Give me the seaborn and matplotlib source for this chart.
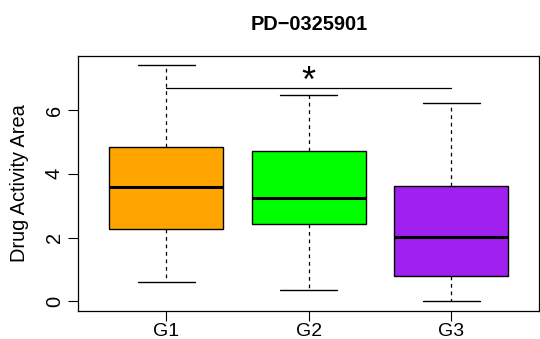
import matplotlib
matplotlib.use("Agg")
import matplotlib.pyplot as plt
import numpy as np
import pandas as pd
import seaborn as sns

# five-number summaries (min, q1, median, q3, max)
groups = ["G1", "G2", "G3"]
g1 = [0.62, 2.26, 3.58, 4.85, 7.41]
g2 = [0.36, 2.42, 3.24, 4.72, 6.47]
g3 = [0.00, 0.80, 2.01, 3.62, 6.23]
colors = ["#FFA500", "#00FF00", "#A020F0"]
sig_y = 6.68
title = "PD\u22120325901"

df = pd.DataFrame({
    "group": np.repeat(groups, 5),
    "value": g1 + g2 + g3,
})

sns.set_theme(style="ticks")
plt.rcParams["font.family"] = ["Liberation Sans", "DejaVu Sans"]
plt.rcParams["text.color"] = "black"
plt.rcParams["axes.labelcolor"] = "black"
plt.rcParams["xtick.color"] = "black"
plt.rcParams["ytick.color"] = "black"

FS = 14.4
fig = plt.figure(figsize=(5.4, 3.39), dpi=100)
ax = fig.add_axes([0.1444, 0.0835, 0.8546, 0.7513])

sns.boxplot(
    data=df, x="group", y="value", hue="group", palette=colors, legend=False,
    whis=(0, 100), width=0.8, linewidth=1, linecolor="black", saturation=1,
    ax=ax,
    whiskerprops=dict(linestyle=(0, (3, 3)), color="black", linewidth=0.9),
    capprops=dict(color="black", linewidth=1),
    medianprops=dict(color="black", linewidth=2.2),
    boxprops=dict(edgecolor="black"),
)

ax.set_xlim(-0.62, 2.62)
ax.set_ylim(-0.296, 7.696)
ax.set_yticks([0, 2, 4, 6])
ax.tick_params(axis="y", labelrotation=90, labelsize=FS, length=7.2, width=0.8, pad=3)
ax.tick_params(axis="x", labelsize=14, length=7.2, width=0.8, pad=1.5)
for lab in ax.get_yticklabels():
    lab.set_va("center")
for s in ax.spines.values():
    s.set_linewidth(0.9)
    s.set_color("black")
ax.set_xlabel("")
ax.set_ylabel("")
fig.text(20 / 540, 1 - 183 / 339, "Drug Activity Area", rotation=90,
         ha="center", va="center", fontsize=FS)

# significance bracket G1 vs G3
ax.plot([0, 2], [sig_y, sig_y], color="black", lw=0.9)
ax.text(1, 6.56, "*", ha="center", va="baseline", fontsize=26)

fig.text(0.5 * (0.1444 + 0.999), 1 - 25 / 339, title, ha="center", va="center",
         fontsize=FS, fontweight="bold")

fig.savefig("out.png", dpi=100)
